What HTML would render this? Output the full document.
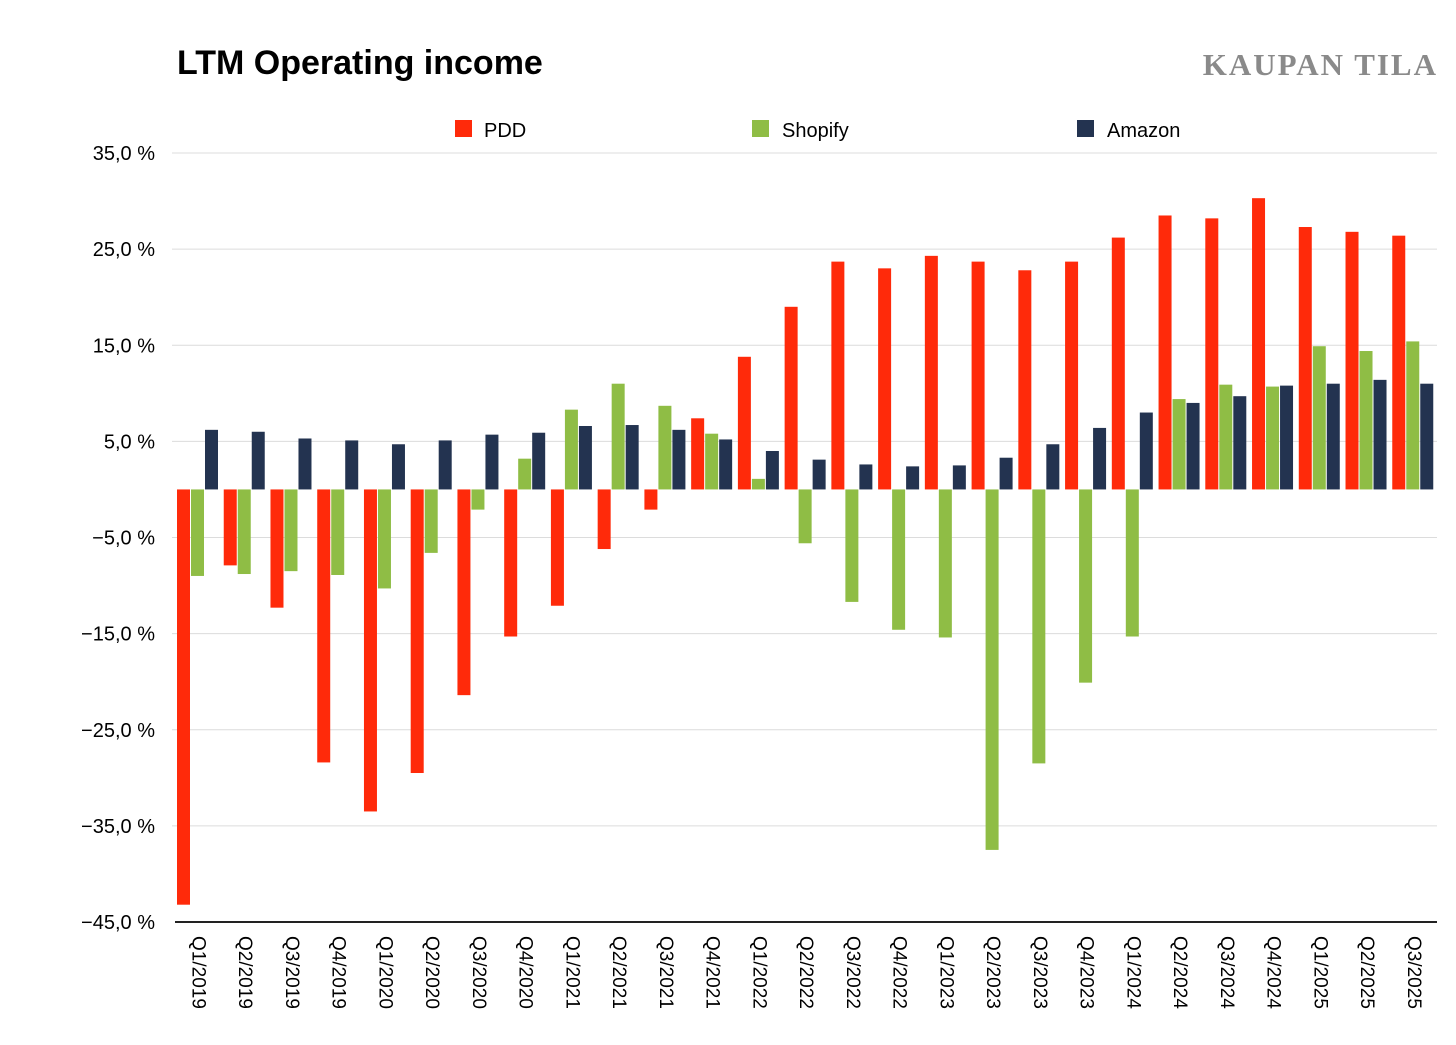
<!DOCTYPE html>
<html><head><meta charset="utf-8"><style>
body{margin:0;background:#fff;width:1456px;height:1040px;overflow:hidden}
svg text{font-family:"Liberation Sans",Arial,sans-serif}
</style></head><body>
<svg id="chart" width="1456" height="1040">
<text x="177" y="74" font-size="34" font-weight="bold" fill="#000">LTM Operating income</text>
<text x="1438" y="75" text-anchor="end" font-size="31" font-weight="bold" fill="#8a8a8a" style="font-family:'Liberation Serif',serif;letter-spacing:2px">KAUPAN TILA</text>
<g>
<rect x="455" y="120" width="17" height="17" fill="#ff2a0a"/>
<text x="484" y="137" font-size="20">PDD</text>
<rect x="752" y="120" width="17" height="17" fill="#8fbd45"/>
<text x="782" y="137" font-size="20">Shopify</text>
<rect x="1077" y="120" width="17" height="17" fill="#233350"/>
<text x="1107" y="137" font-size="20">Amazon</text>
</g>
<g id="grid"></g><g id="bars"></g><g id="labels"></g>
</svg>
<script>
const categories=["Q1/2019","Q2/2019","Q3/2019","Q4/2019","Q1/2020","Q2/2020","Q3/2020","Q4/2020","Q1/2021","Q2/2021","Q3/2021","Q4/2021","Q1/2022","Q2/2022","Q3/2022","Q4/2022","Q1/2023","Q2/2023","Q3/2023","Q4/2023","Q1/2024","Q2/2024","Q3/2024","Q4/2024","Q1/2025","Q2/2025","Q3/2025"];
const pdd=[-43.2,-7.9,-12.3,-28.4,-33.5,-29.5,-21.4,-15.3,-12.1,-6.2,-2.1,7.4,13.8,19.0,23.7,23.0,24.3,23.7,22.8,23.7,26.2,28.5,28.2,30.3,27.3,26.8,26.4];
const shopify=[-9.0,-8.8,-8.5,-8.9,-10.3,-6.6,-2.1,3.2,8.3,11.0,8.7,5.8,1.1,-5.6,-11.7,-14.6,-15.4,-37.5,-28.5,-20.1,-15.3,9.4,10.9,10.7,14.9,14.4,15.4];
const amazon=[6.2,6.0,5.3,5.1,4.7,5.1,5.7,5.9,6.6,6.7,6.2,5.2,4.0,3.1,2.6,2.4,2.5,3.3,4.7,6.4,8.0,9.0,9.7,10.8,11.0,11.4,11.0];
const yTicks=[35,25,15,5,-5,-15,-25,-35,-45];
const NS="http://www.w3.org/2000/svg";
const X0=175,X1=1437,Y_TOP=153,Y_BOT=922,VMAX=35,VMIN=-45;
const gw=(X1-X0)/categories.length;
const y=v=>Y_TOP+(VMAX-v)*(Y_BOT-Y_TOP)/(VMAX-VMIN);
function mk(t,a,p){const e=document.createElementNS(NS,t);for(const k in a)e.setAttribute(k,a[k]);p.appendChild(e);return e;}
const grid=document.getElementById('grid'),bars=document.getElementById('bars'),labels=document.getElementById('labels');
yTicks.forEach(t=>{
 if(t!==VMIN){const l=mk('line',{x1:172,x2:X1,y1:y(t),y2:y(t),stroke:'#dcdcdc','stroke-width':1},grid);
 
 }
 const tx=mk('text',{x:155,y:y(t)+7,'text-anchor':'end','font-size':20},labels);
 tx.textContent=(t<0?'\u2212':'')+Math.abs(t).toFixed(1).replace('.',',')+' %';
 
 
});
const series=[[pdd,'#ff2a0a',2,'pdd'],[shopify,'#8fbd45',16,'shopify'],[amazon,'#233350',30,'amazon']];
categories.forEach((c,i)=>{
 const gx=X0+i*gw;
 series.forEach(([arr,col,off,nm])=>{
  const v=arr[i],y0=y(0),yv=y(v);
  const r=mk('rect',{x:gx+off,y:Math.min(y0,yv),width:13,height:Math.abs(yv-y0),fill:col},bars);
  
  
 });
 const cx=gx+23;
 const t=mk('text',{x:cx,y:936,'font-size':19,transform:`rotate(90 ${cx} 936)`,'dominant-baseline':'central'},labels);
 t.textContent=c;
 
 
});
const ax=mk('line',{x1:X0,x2:X1,y1:Y_BOT,y2:Y_BOT,stroke:'#222','stroke-width':2},labels);


</script>
</body></html>
